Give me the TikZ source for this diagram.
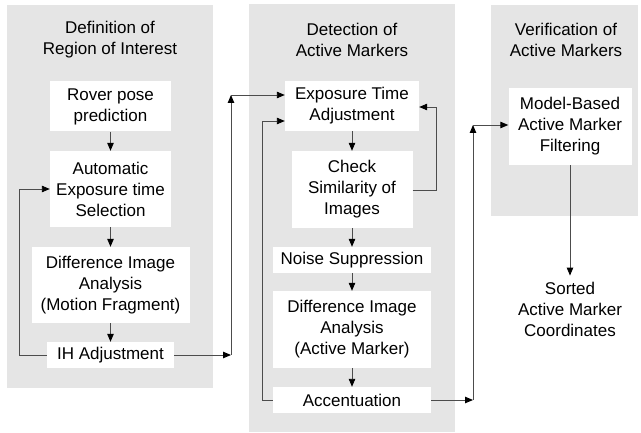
\documentclass[tikz,border=0pt]{standalone}
\usepackage{fontspec}
\setmainfont{Liberation Sans}
\usetikzlibrary{arrows.meta}
\usetikzlibrary{calc}

\begin{document}
\begin{tikzpicture}[x=1pt,y=-1pt,
                bloc/.style={fill=black!10},
                boite/.style={fill=white,align=center,inner sep=0pt},
                titre/.style={align=center,inner sep=0pt},
                trait/.style={line width=0.9pt,draw=black!70},
                fleche/.style={trait,-{Triangle[length=8pt,width=6.5pt,color=black]}},
                font=\fontsize{17}{21}\selectfont]
                \useasboundingbox (0,0) rectangle (641,433);

                % bloc 1 : région d'intérêt
                \fill[bloc] (7,5) rectangle (213,388);
                \node[titre] (titreA) at (110,40) {Definition of\\Region of Interest};
                \node[boite,minimum width=121pt,minimum height=50pt] (rover) at (110.5,106.5) {Rover pose\\prediction};
                \node[boite,minimum width=121pt,minimum height=76pt] (autoexp) at (110.5,189) {Automatic\\Exposure time\\Selection};
                \node[boite,minimum width=158pt,minimum height=76pt] (diffmot) at (110.5,285) {Difference Image\\Analysis\\(Motion Fragment)};
                \node[boite,minimum width=127pt,minimum height=26pt] (ih) at (110.5,355) {IH Adjustment};

                % bloc 2 : détection
                \fill[bloc] (249,4) rectangle (455,432);
                \node[titre] (titreB) at (352,40) {Detection of\\Active Markers};
                \node[boite,minimum width=134pt,minimum height=50pt] (exptime) at (352,106) {Exposure Time\\Adjustment};
                \node[boite,minimum width=121pt,minimum height=77pt] (simil) at (352,189.5) {Check\\Similarity of\\Images};
                \node[boite,minimum width=158pt,minimum height=26pt] (bruit) at (352,260) {Noise Suppression};
                \node[boite,minimum width=158pt,minimum height=77pt] (diffact) at (352,329.5) {Difference Image\\Analysis\\(Active Marker)};
                \node[boite,minimum width=158pt,minimum height=26pt] (accent) at (352,400) {Accentuation};

                % bloc 3 : vérification
                \fill[bloc] (491,5) rectangle (638,216);
                \node[titre] (titreC) at (566,40) {Verification of\\Active Markers};
                \node[boite,minimum width=123pt,minimum height=77pt] (filtre) at (570,126.5) {Model-Based\\Active Marker\\Filtering};
                \node[titre] (tri) at (570,309) {Sorted\\Active Marker\\Coordinates};

                % points de passage
                \coordinate (P) at (19,355);
                \coordinate (Q) at (231,355);
                \coordinate (R) at (231,95);
                \coordinate (S) at (436,190);
                \coordinate (T) at (262,400);
                \coordinate (U) at (473,400);
                \coordinate (V) at (473,125);

                % flèches du bloc 1
                \draw[fleche] (rover) -- (autoexp);
                \draw[fleche] (autoexp) -- (diffmot);
                \draw[fleche] (diffmot) -- (ih);
                \draw[fleche] (ih.west) -- (P) |- (autoexp.west);
                \draw[fleche] (ih.east) -- (Q);
                \draw[fleche] (Q) -- (R);
                \draw[fleche] (R) -- (R -| exptime.west);

                % flèches du bloc 2
                \draw[fleche] (exptime) -- (simil);
                \draw[fleche] (simil) -- (bruit);
                \draw[fleche] (bruit) -- (diffact);
                \draw[fleche] (diffact) -- (accent);
                \draw[fleche] (simil.east |- S) -- (S) |- ($(exptime.east)+(0,1)$);
                \draw[fleche] (accent.west) -- (T) |- ($(exptime.west)+(0,15)$);
                \draw[fleche] (accent.east) -- (U);
                \draw[fleche] (U) -- (V);
                \draw[fleche] (V) -- (V -| filtre.west);

                % flèche du bloc 3
                \draw[fleche,shorten >=6pt] (filtre) -- (tri);
            \end{tikzpicture}
\end{document}
